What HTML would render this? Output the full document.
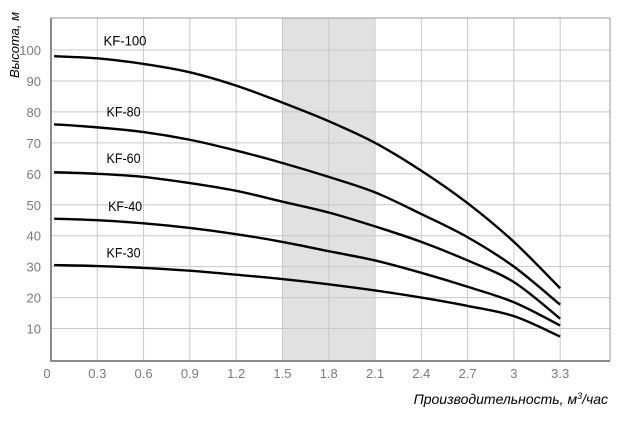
<!DOCTYPE html>
<html><head><meta charset="utf-8"><style>
html,body{margin:0;padding:0;background:#fff}
svg text{font-family:"Liberation Sans Narrow","Liberation Sans",sans-serif}
</style></head><body>
<svg id="chart" width="624" height="418" viewBox="0 0 624 418" xmlns="http://www.w3.org/2000/svg">
<g id="bg"></g><g id="grid"></g><g id="axes"></g><g id="series"></g><g id="labels"></g>
</svg>
<script>
const xTicks=[0,0.3,0.6,0.9,1.2,1.5,1.8,2.1,2.4,2.7,3,3.3];
const xTickLabels=["0","0.3","0.6","0.9","1.2","1.5","1.8","2.1","2.4","2.7","3","3.3"];
const yTicks=[10,20,30,40,50,60,70,80,90,100];
const flowX=[0.02,0.3,0.6,0.9,1.2,1.5,1.8,2.1,2.4,2.7,3.0,3.3];
const seriesNames=["KF-100","KF-80","KF-60","KF-40","KF-30"];
const kf100=[98,97.3,95.5,92.8,88.5,83,77,70,61,50.5,38,23];
const kf80=[76,75,73.5,71,67.5,63.5,59,54,47,39.5,30,17.7];
const kf60=[60.5,60,59,57,54.5,51,47.5,43,38,32,25,13.2];
const kf40=[45.5,45,44,42.5,40.5,38,35,32,28,23.5,18.5,11];
const kf30=[30.5,30.2,29.6,28.7,27.4,26,24.3,22.3,20,17.3,14,7.4];
const seriesValues=[kf100,kf80,kf60,kf40,kf30];
const labelPos=[[0.34,101.5],[0.36,78.5],[0.36,63.5],[0.37,48],[0.36,33]];
const bandRange=[1.5,2.1];

const NS="http://www.w3.org/2000/svg";
const L=51,R=610,T=18,B=361;
const xs=v=>L+v*154.3;
const ys=v=>359.5-v*3.095;
function mk(tag,attrs,parent){const e=document.createElementNS(NS,tag);for(const k in attrs)e.setAttribute(k,attrs[k]);document.getElementById(parent).appendChild(e);return e;}

const band=mk("rect",{x:xs(bandRange[0]),y:T,width:xs(bandRange[1])-xs(bandRange[0]),height:B-T,fill:"#e1e1e1"},"bg");



yTicks.forEach(v=>{
  const g=mk("line",{x1:L,x2:R,y1:ys(v),y2:ys(v),stroke:"#c8c8c8","stroke-width":1},"grid");
  
  
  const t=mk("text",{x:L-10,y:ys(v)+5,"text-anchor":"end","font-size":13,fill:"#7a7a7a"},"labels");
  t.textContent=v;
  
  
});
xTicks.forEach((v,i)=>{
  if(v>0){
  const g=mk("line",{x1:xs(v),x2:xs(v),y1:T,y2:B,stroke:"#c8c8c8","stroke-width":1},"grid");
  
  }
  const t=mk("text",{x:xs(v)-(i==0?4:0),y:B+17,"text-anchor":"middle","font-size":13,fill:"#7a7a7a"},"labels");
  t.textContent=xTickLabels[i];
  
  
});
const frame=mk("rect",{x:L,y:T,width:R-L,height:B-T,fill:"none",stroke:"#9a9a9a","stroke-width":1},"axes");


const ax=mk("path",{d:`M${L},${T}V${B}H${R}`,fill:"none",stroke:"#8a8a8a","stroke-width":2},"axes");



function spline(pts){
  let d=`M${pts[0][0]},${pts[0][1]}`;
  for(let i=0;i<pts.length-1;i++){
    const p0=pts[Math.max(0,i-1)],p1=pts[i],p2=pts[i+1],p3=pts[Math.min(pts.length-1,i+2)];
    const c1=[p1[0]+(p2[0]-p0[0])/6,p1[1]+(p2[1]-p0[1])/6];
    const c2=[p2[0]-(p3[0]-p1[0])/6,p2[1]-(p3[1]-p1[1])/6];
    d+=`C${c1[0]},${c1[1]} ${c2[0]},${c2[1]} ${p2[0]},${p2[1]}`;
  }
  return d;
}
seriesValues.forEach((vals,si)=>{
  const pts=flowX.map((x,i)=>[xs(x),ys(vals[i])]);
  const p=mk("path",{d:spline(pts),fill:"none",stroke:"#000","stroke-width":2.4},"series");
  
  
  const t=mk("text",{x:xs(labelPos[si][0]),y:ys(labelPos[si][1]),"font-size":14,fill:"#000",textLength:43,lengthAdjust:"spacingAndGlyphs"},"labels");
  if(si>0)t.setAttribute("textLength",34);
  t.textContent=seriesNames[si];
  
  
});
const yt=mk("text",{x:0,y:0,"font-size":13,"font-style":"italic",fill:"#000","text-anchor":"middle",transform:"translate(19,45) rotate(-90)"},"labels");
yt.textContent="Высота, м";


const xt=mk("text",{x:608,y:404,"font-size":14,"font-style":"italic",fill:"#000","text-anchor":"end"},"labels");
xt.innerHTML='Производительность, м<tspan dy="-5" font-size="9">3</tspan><tspan dy="5">/час</tspan>';


</script>
</body></html>
